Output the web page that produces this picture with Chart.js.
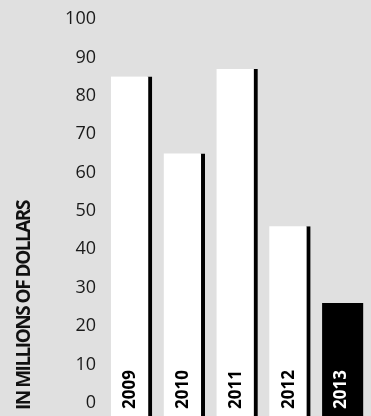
<!DOCTYPE html>
<html>
<head>
<meta charset="utf-8">
<script src="https://cdn.jsdelivr.net/npm/chart.js@4/dist/chart.umd.min.js"></script>
<style>
    body { margin: 0; background: #e0e0e0; }
    #wrap { width: 371px; height: 416px; }
</style>
</head>
<body>
<div id="wrap"><canvas id="revenueChart"></canvas></div>
<script>
// Revenue by year, in millions of dollars
const years = ['2009', '2010', '2011', '2012', '2013'];
const revenue = [85, 65, 87, 46, 26];
const tickValues = [0, 10, 20, 30, 40, 50, 60, 70, 80, 90, 100];
const axisTitle = 'IN MILLIONS OF DOLLARS';

const axisMin = -3.4;   // bars run a little past zero down to the bottom edge
const lastIndex = years.length - 1;

// Year labels written upward inside the foot of each bar, plus the axis title
const barLabels = {
    id: 'barLabels',
    afterDatasetsDraw(chart) {
        const ctx = chart.ctx;
        const bars = chart.getDatasetMeta(0).data;
        ctx.save();
        ctx.textAlign = 'left';
        ctx.textBaseline = 'middle';
        ctx.font = 'bold 17px "Open Sans"';
        bars.forEach(function(bar, i) {
            ctx.save();
            ctx.translate(bar.x - 1, 409);
            ctx.rotate(-Math.PI / 2);
            ctx.fillStyle = i === lastIndex ? '#ffffff' : '#000000';
            ctx.fillText(years[i], 0, 0);
            ctx.restore();
        });

        ctx.font = 'bold 19px "Open Sans"';
        ctx.letterSpacing = '-1.5px';
        ctx.fillStyle = '#111111';
        ctx.translate(25, 410);
        ctx.rotate(-Math.PI / 2);
        ctx.fillText(axisTitle, 0, 0);
        ctx.restore();
    }
};

const ctx = document.getElementById('revenueChart').getContext('2d');
const revenueChart = new Chart(ctx, {
    type: 'bar',
    data: {
        labels: years,
        datasets: [{
            data: revenue,
            base: axisMin,
            backgroundColor: c => c.dataIndex === lastIndex ? '#000000' : '#ffffff',
            borderColor: '#000000',
            borderWidth: { top: 0, right: 4, bottom: 0, left: 0 },
            borderSkipped: false,
            barThickness: 41
        }]
    },
    options: {
        responsive: true,
        maintainAspectRatio: false,
        animation: false,
        layout: { padding: { top: 19, right: 2, bottom: 0, left: 0 } },
        plugins: {
            legend: { display: false },
            tooltip: { enabled: false }
        },
        scales: {
            x: { display: false },
            y: {
                min: axisMin,
                max: 100,
                grid: { display: false, drawTicks: false },
                border: { display: false },
                afterBuildTicks: scale => {
                    scale.ticks = tickValues.map(v => ({ value: v }));
                },
                afterFit: scale => {
                    scale.width = 105;
                    scale.paddingTop = 0;
                    scale.paddingBottom = 0;
                },
                ticks: {
                    padding: 9,
                    color: '#1a1a1a',
                    font: { family: 'Open Sans', size: 18 }
                }
            }
        }
    },
    plugins: [barLabels]
});
</script>
</body>
</html>
